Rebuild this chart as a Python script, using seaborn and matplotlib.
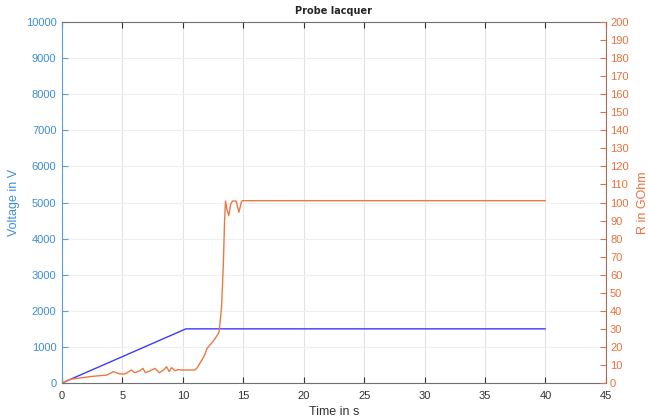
import matplotlib
matplotlib.use('Agg')
import matplotlib.pyplot as plt
import seaborn as sns
import pandas as pd

# voltage ramp
time_v = [0, 10.25, 40]
voltage = [0, 1500, 1500]

# resistance trace (GOhm)
time_r = [0, 0.66, 1.5, 2.3, 3.0, 3.7, 4.25, 4.8, 5.2, 5.76, 6.0, 6.45, 6.7, 6.9,
          7.3, 7.7, 8.05, 8.4, 8.65, 8.87, 9.07, 9.35, 9.62, 9.8, 11.0, 11.2, 11.4,
          11.6, 11.8, 12.0, 12.3, 12.6, 12.9, 13.0, 13.2, 13.35, 13.45, 13.53, 13.65,
          13.8, 13.95, 14.1, 14.4, 14.64, 14.86, 15.0, 40]
resistance = [0, 2.0, 2.8, 3.5, 4.0, 4.4, 6.3, 5.0, 5.0, 7.2, 5.7, 6.8, 8.1, 5.7,
              6.8, 8.1, 5.7, 7.2, 9.0, 6.3, 8.5, 6.8, 7.5, 7.2, 7.2, 8.6, 10.9,
              13.0, 15.5, 19.2, 21.5, 24.0, 27.0, 28.5, 42, 66, 90, 100.8, 96,
              92.7, 99, 100.8, 100.8, 94.6, 100.8, 101, 101]

v_df = pd.DataFrame({'t': time_v, 'V': voltage})
r_df = pd.DataFrame({'t': time_r, 'R': resistance})

sns.set_style('white')
plt.rcParams['font.family'] = ['Liberation Sans', 'DejaVu Sans']

blue_txt = '#3d8fd1'
orange_txt = '#e8713c'

fig = plt.figure(figsize=(6.48, 4.19), dpi=100)
ax = fig.add_axes([0.0957, 0.0859, 0.935 - 0.0957, 0.9475 - 0.0859])

sns.lineplot(data=v_df, x='t', y='V', ax=ax, color='#3b3bff', linewidth=1.0,
             estimator=None, sort=True)
ax.set_xlim(0, 45)
ax.set_ylim(0, 10000)
ax.set_xticks(range(0, 46, 5))
ax.set_yticks(range(0, 10001, 1000))
ax.grid(True, axis='y', color='#ebf0f5', linewidth=0.8)
ax.grid(True, axis='x', color='#e2e2e2', linewidth=0.8)
ax.set_axisbelow(True)
ax.set_xlabel('Time in s', fontsize=9, color='#333333', labelpad=3)
ax.set_ylabel('Voltage in V', fontsize=9, color=blue_txt, labelpad=4)
ax.set_title('Probe lacquer', fontsize=7, fontweight='bold', family='DejaVu Sans', pad=6)
ax.tick_params(axis='x', direction='in', length=4, labelsize=8, colors='#333333',
               top=True, bottom=True, pad=6)
ax.tick_params(axis='y', direction='in', length=4, labelsize=8, colors='#5aa0d8',
               labelcolor=blue_txt, left=True, pad=4)
ax.spines['left'].set_color('#5aa0d8')
ax.spines['bottom'].set_color('#707070')
ax.spines['top'].set_color('#707070')
ax.spines['right'].set_visible(False)

ax2 = ax.twinx()
sns.lineplot(data=r_df, x='t', y='R', ax=ax2, color='#ea7a45', linewidth=1.0,
             estimator=None, sort=True)
ax2.set_ylim(0, 200)
ax2.set_yticks(range(0, 201, 10))
ax2.set_ylabel('R in GOhm', fontsize=9, color=orange_txt, labelpad=6)
ax2.tick_params(axis='y', direction='in', length=4, labelsize=8, colors='#e8713c',
                labelcolor=orange_txt, right=True, pad=3)
ax2.spines['right'].set_color('#a0705a')
ax2.spines['left'].set_visible(False)
ax2.spines['top'].set_visible(False)
ax2.spines['bottom'].set_visible(False)
ax2.grid(False)

fig.savefig('out.png', dpi=100)
